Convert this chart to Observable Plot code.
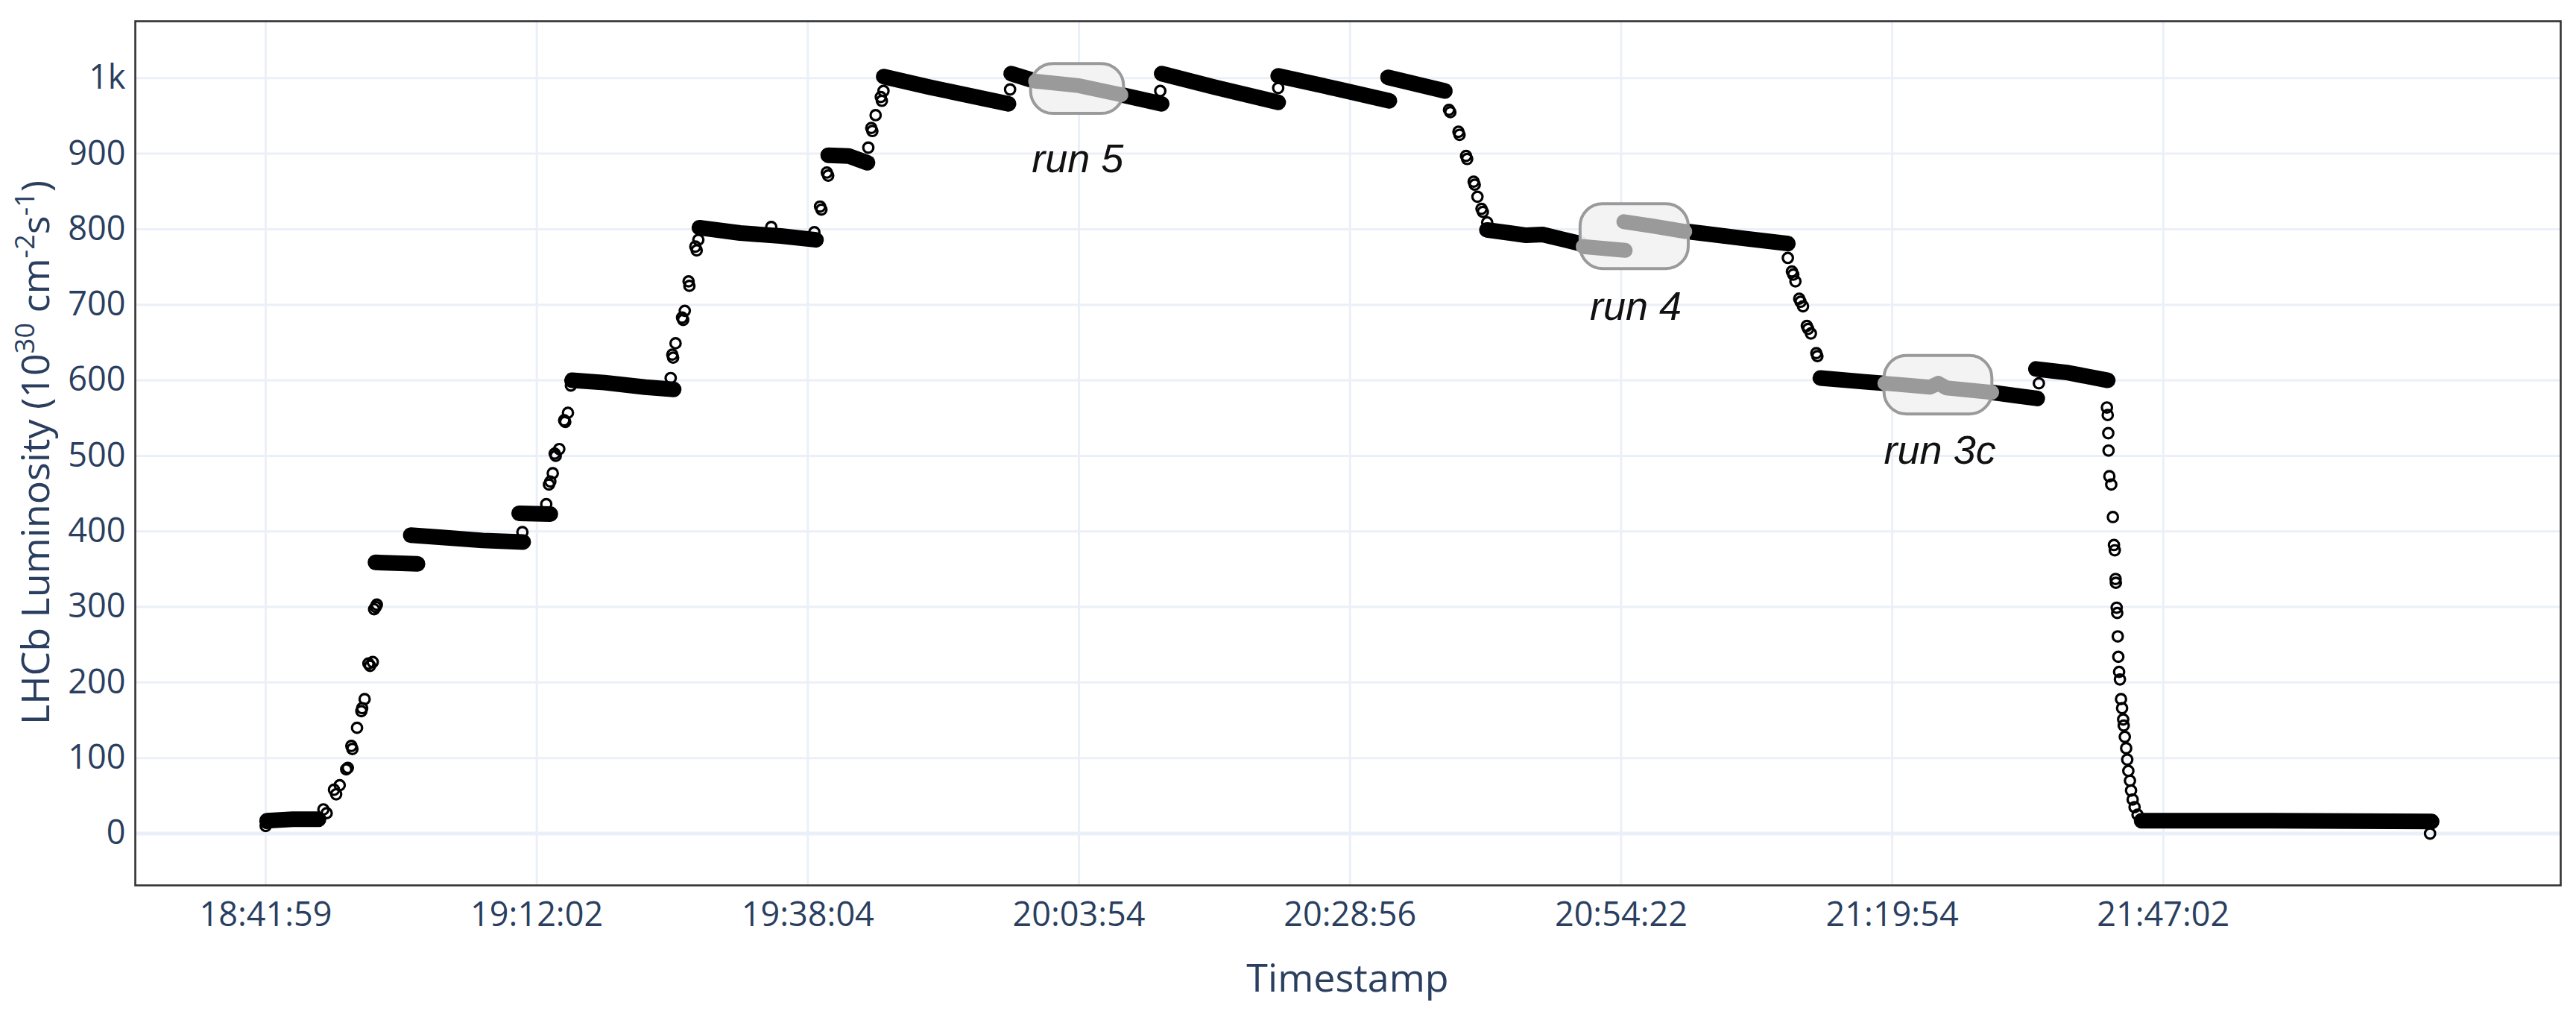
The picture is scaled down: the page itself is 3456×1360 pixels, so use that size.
<!DOCTYPE html>
<html>
<head>
<meta charset="utf-8">
<script src="https://cdn.jsdelivr.net/npm/d3@7"></script>
<script src="https://cdn.jsdelivr.net/npm/@observablehq/plot@0.6"></script>
<style>
  html, body { margin: 0; padding: 0; background: #fff; }
  #chart svg { display: block; }
</style>
</head>
<body>
<div id="chart"></div>
<script>
// ---- x axis: evenly spaced category ticks (position units, 100 per tick) ----
const tickPositions = [0, 100, 200, 300, 400, 500, 600, 700];
const tickLabels = ["18:41:59", "19:12:02", "19:38:04", "20:03:54", "20:28:56", "20:54:22", "21:19:54", "21:47:02"];
const yTicks = [0, 100, 200, 300, 400, 500, 600, 700, 800, 900, 1000];

// ---- dense plateaus (black), each a polyline of [position, luminosity] ----
const plateaus = [
  [[0.5, 17], [10, 19], [19.5, 19]],
  [[40.5, 359], [48, 358], [56, 357]],
  [[53.5, 395], [65, 392], [80, 388], [95, 386]],
  [[93.5, 424], [105, 423]],
  [[113, 600], [125, 597], [140, 591], [150.5, 588]],
  [[160, 802], [175, 795], [190, 791], [203, 786]],
  [[207.5, 898], [215, 897], [222, 888]],
  [[228, 1002], [245, 988], [274, 966]],
  [[275, 1006], [284, 996]],
  [[315.5, 978], [330.5, 966]],
  [[330.5, 1006], [350, 988], [373.5, 968]],
  [[373.5, 1003], [395, 986], [414.5, 970]],
  [[414, 1001], [435, 983]],
  [[450.5, 799], [465, 792], [471, 793], [478, 787], [485, 781]],
  [[524.5, 797], [545, 788], [561.5, 781]],
  [[573.5, 603], [590, 598], [597, 596]],
  [[637, 584], [645, 580], [653.5, 576]],
  [[653, 615], [665, 610], [679.5, 600]],
  [[692, 17], [740, 17], [799, 16]]
];

// ---- highlighted (grey) run segments ----
const highlighted = [
  [[284, 996], [300, 990], [315.5, 978]],
  [[486, 777], [501.5, 772]],
  [[501, 810], [512, 804], [523.5, 797]],
  [[597.3, 596], [614, 591], [617, 596], [620, 590], [636.7, 584]]
];

// ---- isolated circles during ramps / steps ----
const transitions = [
  [0, 10], [0.3, 14],
  [21.3, 32], [22.5, 27], [25.2, 58], [26, 52], [27.3, 64], [29.7, 85], [30.3, 87], [31.6, 116], [32, 112],
  [33.7, 140], [35.3, 162], [35.6, 166], [36.5, 178], [37.9, 225], [38.5, 222], [39.5, 227], [40, 297], [40.6, 300], [41, 303],
  [94.7, 399], [103.5, 436], [104.5, 462], [105, 466], [105.9, 477], [106.6, 503], [107, 500], [108.3, 509],
  [110.1, 547], [110.5, 545], [111.5, 557], [112.6, 593],
  [149.4, 603], [150, 634], [150.3, 630], [151.2, 649], [153.6, 683], [154, 680], [154.6, 692], [156, 731], [156.3, 725],
  [158.5, 777], [159, 772], [159.6, 786], [186.5, 803],
  [202.4, 796], [204.5, 830], [205, 826], [207, 875], [207.5, 871],
  [222.3, 908], [223.4, 934], [223.8, 930], [225, 951], [226.9, 975], [227.3, 970], [227.9, 983],
  [274.6, 985], [330, 983], [373.5, 987],
  [436.5, 958], [437, 955], [440, 929], [440.4, 925], [442.8, 897], [443.2, 893], [445.6, 863], [446, 859],
  [447, 843], [448.5, 827], [449, 823], [450.6, 809],
  [561.5, 762], [563, 744], [563.5, 740], [564.3, 731], [565.7, 708], [566.2, 704], [567.1, 698], [568.5, 672],
  [569, 668], [570, 662], [572, 636], [572.4, 632],
  [654.1, 596],
  [679.2, 564], [679.5, 554], [679.7, 530], [679.8, 507], [680.1, 473], [680.8, 462], [681.4, 419], [681.8, 382],
  [682.1, 375], [682.4, 337], [682.5, 332], [682.8, 299], [683, 292], [683.2, 261], [683.4, 234], [683.7, 214],
  [684, 204], [684.4, 178], [684.8, 166], [685.2, 151], [685.4, 143], [685.8, 128], [686.3, 113], [686.7, 98],
  [687.1, 83], [687.7, 70], [688.1, 57], [688.7, 45], [689.4, 35], [690.5, 25],
  [798.4, 0]
];

// ---- run annotation boxes and labels ----
const runBoxes = [
  {x1: 282.3, x2: 316.6, y1: 952.8, y2: 1018.9},
  {x1: 485.0, x2: 524.9, y1: 747.4, y2: 833.3},
  {x1: 597.1, x2: 636.9, y1: 555.0, y2: 632.3}
];
const runLabels = [
  {x: 299.5, y: 892.5, text: "run 5"},
  {x: 505.4, y: 696.6, text: "run 4"},
  {x: 617.6, y: 507.0, text: "run 3c"}
];

const toRows = (segs) => segs.flatMap((seg, k) => seg.map(([x, y]) => ({x, y, k})));

const axisColor = "#2a3f5f";
const gridColor = "#EBF0F8";

const chart = Plot.plot({
  width: 3456,
  height: 1360,
  marginTop: 28,
  marginRight: 21,
  marginBottom: 173,
  marginLeft: 181,
  style: {fontFamily: "'Open Sans', sans-serif", background: "#fff", color: axisColor},
  x: {domain: [-48.1, 846.6], axis: null},
  y: {domain: [-68.6, 1075.3], axis: null},
  marks: [
    Plot.gridX(tickPositions, {stroke: gridColor, strokeOpacity: 1, strokeWidth: 3}),
    Plot.gridY(yTicks.filter(d => d !== 0), {stroke: gridColor, strokeOpacity: 1, strokeWidth: 3}),
    Plot.ruleY([0], {stroke: gridColor, strokeWidth: 5}),
    Plot.line(toRows(plateaus), {x: "x", y: "y", z: "k", stroke: "#000", strokeWidth: 21,
      strokeLinecap: "round", strokeLinejoin: "round"}),
    Plot.rect(runBoxes, {x1: "x1", x2: "x2", y1: "y1", y2: "y2", rx: 30, ry: 30,
      fill: "#f2f2f2", fillOpacity: 0.95, stroke: "#9a9a9a", strokeWidth: 4}),
    Plot.line(toRows(highlighted), {x: "x", y: "y", z: "k", stroke: "#9a9a9a", strokeWidth: 20,
      strokeLinecap: "round", strokeLinejoin: "round"}),
    Plot.dot(transitions, {x: d => d[0], y: d => d[1], r: 6.8, stroke: "#000", strokeWidth: 3.2, fill: "none"}),
    Plot.text(runLabels, {x: "x", y: "y", text: "text", fontSize: 54, fontStyle: "italic",
      fontFamily: "'Liberation Sans', Arial, sans-serif", fill: "#111", textAnchor: "middle", lineAnchor: "middle"}),
    Plot.axisX(tickPositions, {tickSize: 0, tickPadding: 23, fontSize: 45, fill: axisColor,
      tickFormat: d => tickLabels[tickPositions.indexOf(d)], label: null}),
    Plot.axisY(yTicks, {tickSize: 0, tickPadding: 13, fontSize: 45, fill: axisColor,
      tickFormat: d => d === 1000 ? "1k" : String(d), label: null}),
    Plot.frame({stroke: "#333", strokeWidth: 2.6})
  ]
});

document.getElementById("chart").appendChild(chart);

// axis titles (y title with superscripts, as Plotly renders them)
const svg = d3.select(chart);
svg.append("text")
  .attr("x", 1808).attr("y", 1330)
  .attr("text-anchor", "middle")
  .attr("font-family", "'Open Sans', sans-serif")
  .attr("font-size", 52)
  .attr("fill", axisColor)
  .text("Timestamp");

const yt = svg.append("text")
  .attr("transform", "translate(66,607) rotate(-90)")
  .attr("text-anchor", "middle")
  .attr("font-family", "'Open Sans', sans-serif")
  .attr("font-size", 52)
  .attr("fill", axisColor);
const parts = [["LHCb Luminosity (10", false], ["30", true], [" cm", false], ["-2", true], ["s", false], ["-1", true], [")", false]];
let prevSup = false;
for (const [t, sup] of parts) {
  const ts = yt.append("tspan").text(t);
  if (sup) { ts.attr("font-size", 36).attr("dy", prevSup ? 0 : -20); }
  else if (prevSup) { ts.attr("dy", 20); }
  prevSup = sup;
}
</script>
</body>
</html>
